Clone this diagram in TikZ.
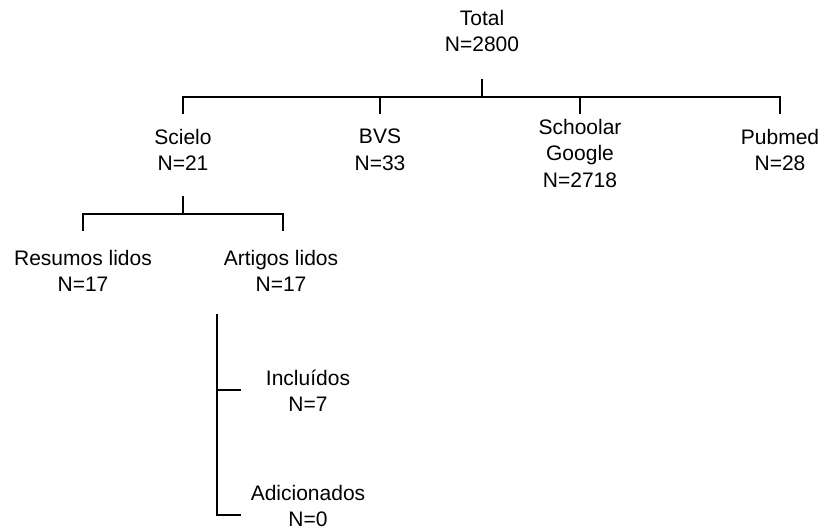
\documentclass[tikz,border=0pt]{standalone}
\usepackage{fontspec}
\setmainfont{Liberation Sans}
\begin{document}
\begin{tikzpicture}[x=1pt,y=-1pt,
  lbl/.style={align=center,inner sep=0pt,font=\fontsize{21}{26.5}\selectfont},
  conn/.style={line width=1.4pt,line cap=rect}]
\useasboundingbox (0,0) rectangle (824,530);
% nodes
\node[lbl] (total) at (482,31) {Total\\N=2800};
\node[lbl] (scielo) at (183,150) {Scielo\\N=21};
\node[lbl] (bvs) at (380,150) {BVS\\N=33};
\node[lbl] (google) at (580,153) {Schoolar\\Google\\N=2718};
\node[lbl] (pubmed) at (780,150) {Pubmed\\N=28};
\node[lbl] (resumos) at (83,271) {Resumos lidos\\N=17};
\node[lbl] (artigos) at (281,271) {Artigos lidos\\N=17};
\node[lbl] (incl) at (308,391) {Incluídos\\N=7};
\node[lbl] (adic) at (308,506) {Adicionados\\N=0};
% junction coordinates
\coordinate (ta) at (482,80);
\coordinate (tb) at (482,97);
\coordinate (d1) at (183,113);
\coordinate (d2) at (380,113);
\coordinate (d3) at (580,113);
\coordinate (d4) at (780,113);
\coordinate (sa) at (183,197);
\coordinate (sb) at (183,214);
\coordinate (e1) at (83,230);
\coordinate (e2) at (283,230);
\coordinate (va) at (217,315);
\coordinate (vb) at (217,390);
\coordinate (vc) at (217,515);
\coordinate (f1) at (240,390);
\coordinate (f2) at (240,515);
% connectors
\draw[conn] (ta) -- (tb);
\draw[conn] (d1) |- (tb) -| (d4);
\draw[conn] (d2) -- (d2 |- tb);
\draw[conn] (d3) -- (d3 |- tb);
\draw[conn] (sa) -- (sb);
\draw[conn] (e1) |- (sb) -| (e2);
\draw[conn] (va) -- (vc) -- (f2);
\draw[conn] (vb) -- (f1);
\end{tikzpicture}
\end{document}
